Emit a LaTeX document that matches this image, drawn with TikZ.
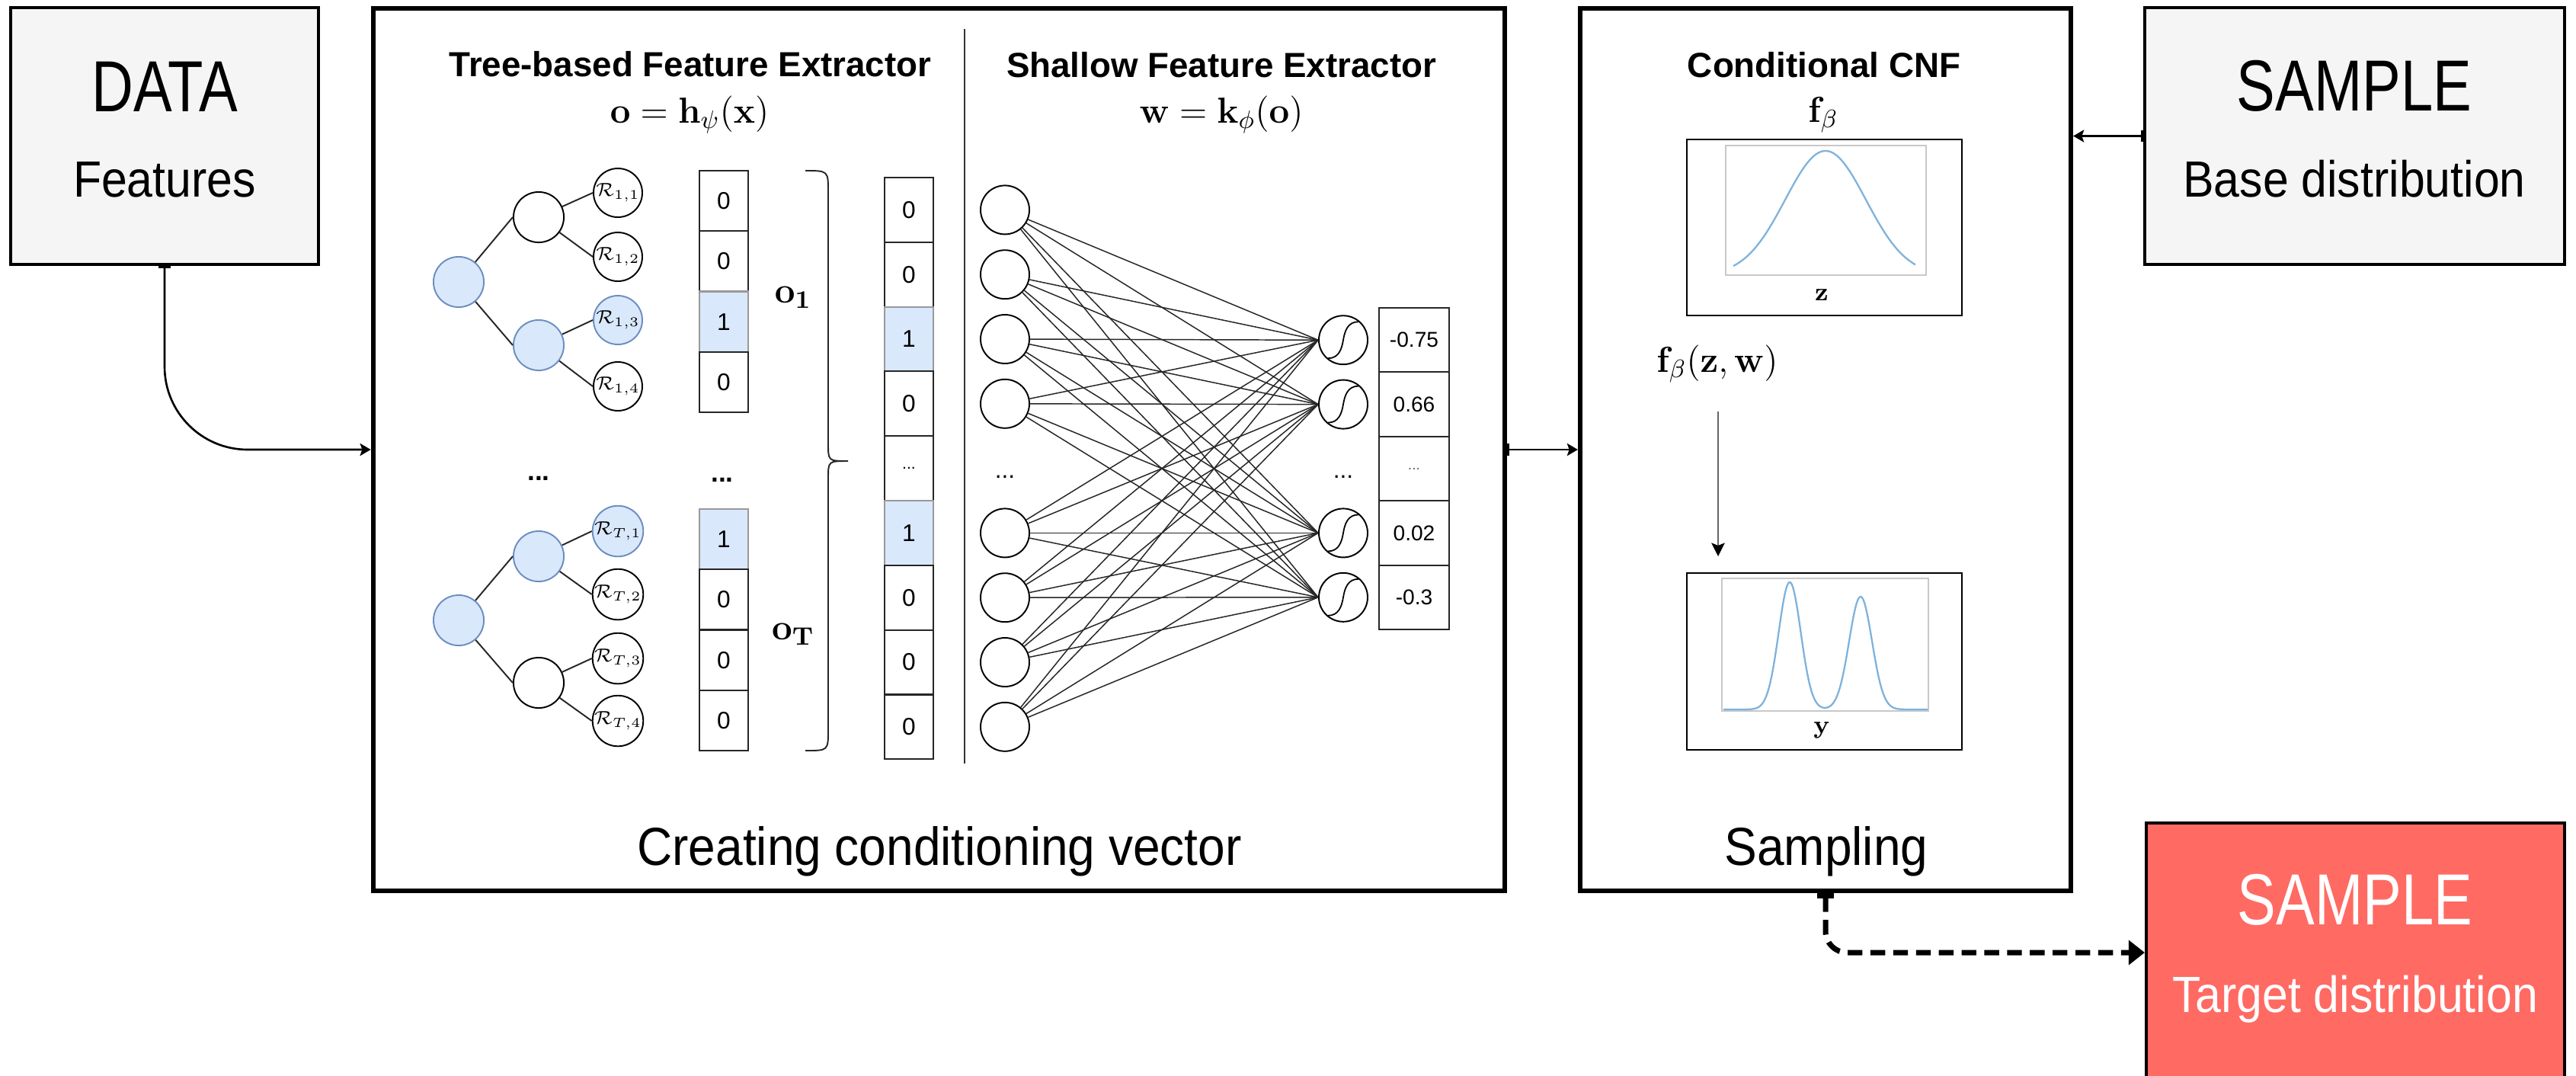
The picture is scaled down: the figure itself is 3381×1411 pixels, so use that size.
\RequirePackage{fix-cm}
\documentclass[tikz,border=0pt]{standalone}
\usepackage[no-math]{fontspec}
\setmainfont{Liberation Sans}
\newfontfamily\capfont{Liberation Sans}[FakeStretch=0.8]
\newfontfamily\subfont{Liberation Sans}[FakeStretch=0.91]
\usetikzlibrary{arrows.meta,calc}
\definecolor{boxgrey}{HTML}{F5F5F5}
\definecolor{bluefill}{HTML}{DAE8FC}
\definecolor{bluedraw}{HTML}{6C8EBF}
\definecolor{targetred}{HTML}{FF6A63}
\definecolor{curveblue}{HTML}{7FB2DB}
\definecolor{framegrey}{HTML}{C8C8C8}
\newcommand\vdts{...}
\begin{document}
\begin{tikzpicture}[x=0.01cm,y=-0.01cm,
  greybox/.style={draw, line width=1.1pt, fill=boxgrey, inner sep=0pt},
  panel/.style={draw, line width=1.7pt, inner sep=0pt},
  capt/.style={font=\capfont\fontsize{27}{30}\selectfont, inner sep=0pt},
  subt/.style={font=\subfont\fontsize{19}{22}\selectfont, inner sep=0pt},
  bott/.style={font=\subfont\fontsize{20}{24}\selectfont, inner sep=0pt},
  ttl/.style={font=\bfseries\fontsize{13}{15}\selectfont, inner sep=0pt},
  frm/.style={font=\fontsize{13.5}{15}\selectfont, inner sep=0pt},
  tn/.style={circle, draw, line width=0.55pt, minimum size=18.8pt, inner sep=0pt},
  tnb/.style={tn, fill=bluefill, draw=bluedraw},
  lf/.style={circle, draw, line width=0.55pt, minimum size=18.2pt, inner sep=0pt, font=\fontsize{7}{8}\selectfont},
  lfb/.style={lf, fill=bluefill, draw=bluedraw},
  vw/.style={draw=black!85, line width=0.6pt, minimum width=18.2pt, inner sep=0pt, font=\fontsize{9}{10}\selectfont},
  vb/.style={vw, fill=bluefill, draw=black!40},
  vd/.style={vw, font=\fontsize{6}{7}\selectfont},
  ow/.style={draw=black!85, line width=0.6pt, minimum width=26.2pt, minimum height=24pt, inner sep=0pt, font=\fontsize{8}{9}\selectfont},
  od/.style={ow, font=\fontsize{5.5}{6}\selectfont, text=black!60},
  nn/.style={circle, draw, line width=0.55pt, minimum size=18.2pt, inner sep=0pt},
  tedge/.style={line width=0.55pt, black!85},
  nnedge/.style={line width=0.42pt, black!85},
  dts/.style={font=\bfseries\fontsize{10}{12}\selectfont, inner sep=0pt},
  ndts/.style={font=\fontsize{9}{10}\selectfont, inner sep=0pt},
  plotbox/.style={draw, line width=0.6pt, minimum width=102.7pt, minimum height=65.7pt, inner sep=0pt},
  conn/.style={line width=0.75pt, {Bar[width=4.5pt]}-{Stealth[length=4pt,width=4.6pt,inset=0.8pt]}},
  dconn/.style={line width=2pt, dash pattern=on 5.5pt off 3pt, rounded corners=8pt, {Bar[width=6pt]}-{Triangle[length=6pt,width=9pt]}},
  garr/.style={line width=0.6pt, black!60, -{Stealth[length=5pt,width=5pt,inset=1pt,color=black]}}
]
\useasboundingbox (0,0) rectangle (3381,1411);

% ---------- outer boxes ----------
\node[greybox, minimum width=114.9pt, minimum height=95.9pt] (data) at (216,178.5) {};
\node[panel, minimum width=422.5pt, minimum height=329.3pt] (main) at (1232.5,590) {};
\node[panel, minimum width=183.2pt, minimum height=329.3pt] (cnf) at (2396,590) {};
\node[greybox, minimum width=156.8pt, minimum height=95.9pt] (base) at (3090.5,178.5) {};
\node[greybox, fill=targetred, minimum width=156.2pt, minimum height=96.7pt] (target) at (3091.5,1250) {};

\node[capt, anchor=base] (datat) at (216,146) {DATA};
\node[subt, anchor=base] (datas) at (216,258) {Features};
\node[capt, anchor=base] (baset) at (3090,145) {SAMPLE};
\node[subt, anchor=base] (bases) at (3090,258) {Base distribution};
\node[capt, anchor=base, text=white] (tgtt) at (3091,1213) {SAMPLE};
\node[subt, anchor=base, text=white] (tgts) at (3091,1328) {Target distribution};
\node[bott, anchor=base] (mainlbl) at (1233,1135) {Creating conditioning vector};
\node[bott, anchor=base] (cnflbl) at (2397,1135) {Sampling};

% ---------- connectors between boxes ----------
\draw[conn, rounded corners=31pt] (data.south) |- (main.west);
\draw[conn] (main.east) -- (cnf.west);
\draw[conn] (base.west) -- (cnf.east |- base.west);
\draw[dconn] (cnf.south) |- (target.west);

% ---------- titles ----------
\node[ttl, anchor=base] (t1) at (906,100) {Tree-based Feature Extractor};
\node[frm, anchor=base] (f1) at (905,161) {$\mathbf{o}=\mathbf{h}_{\psi}(\mathbf{x})$};
\node[ttl, anchor=base] (t2) at (1603,101) {Shallow Feature Extractor};
\node[frm, anchor=base] (f2) at (1603,161) {$\mathbf{w}=\mathbf{k}_{\phi}(\mathbf{o})$};
\draw[line width=0.5pt, black!80] (1266,38) -- (1266,1002);

% ---------- tree 1 ----------
\node[tnb] (r1) at (602,370) {};
\node[tn] (a1) at (707,285) {};
\node[tnb] (b1) at (707,453) {};
\node[lf] (l11) at (811,253) {$\mathcal{R}_{1,1}$};
\node[lf] (l12) at (811,337) {$\mathcal{R}_{1,2}$};
\node[lfb] (l13) at (811,420) {$\mathcal{R}_{1,3}$};
\node[lf] (l14) at (811,507) {$\mathcal{R}_{1,4}$};
\draw[tedge] (r1) -- (a1.west);
\draw[tedge] (r1) -- (b1.west);
\draw[tedge] (a1) -- (l11.west);
\draw[tedge] (a1) -- (l12.west);
\draw[tedge] (b1) -- (l13.west);
\draw[tedge] (b1) -- (l14.west);

% ---------- tree T ----------
\node[tnb] (rT) at (602,814) {};
\node[tnb] (aT) at (707,730) {};
\node[tn] (bT) at (707,896) {};
\node[lfb] (lT1) at (811,697) {$\mathcal{R}_{T,1}$};
\node[lf] (lT2) at (811,780) {$\mathcal{R}_{T,2}$};
\node[lf] (lT3) at (811,864) {$\mathcal{R}_{T,3}$};
\node[lf] (lT4) at (811,946) {$\mathcal{R}_{T,4}$};
\draw[tedge] (rT) -- (aT.west);
\draw[tedge] (rT) -- (bT.west);
\draw[tedge] (aT) -- (lT1.west);
\draw[tedge] (aT) -- (lT2.west);
\draw[tedge] (bT) -- (lT3.west);
\draw[tedge] (bT) -- (lT4.west);

\node[dts, anchor=base] (trdots) at (707,630) {...};
\node[dts, anchor=base] (vdots) at (948,632) {...};

% ---------- tree output vectors ----------
\foreach \v/\s [count=\i] in {0/vw,0/vw,1/vb,0/vw}
  \node[\s, minimum height=22.55pt] (va\i) at (950,{224+79.25*(\i-0.5)}) {\v};
\foreach \v/\s [count=\i] in {1/vb,0/vw,0/vw,0/vw}
  \node[\s, minimum height=22.55pt] (vt\i) at (950,{668+79.25*(\i-0.5)}) {\v};
\node[frm] (o1) at (1041,390) {$\mathbf{o}_{\mathbf{1}}$};
\node[frm] (oT) at (1041,832) {$\mathbf{o}_{\mathbf{T}}$};
\draw[line width=0.55pt, black!85] (1057,224) .. controls (1087,224) .. (1087,252) -- (1087,582) .. controls (1087,605) .. (1113,605) .. controls (1087,605) .. (1087,628) -- (1087,958) .. controls (1087,985) .. (1057,985);

% ---------- concatenated vector ----------
\foreach \v/\s [count=\i] in {0/vw,0/vw,1/vb,0/vw,\vdts/vd,1/vb,0/vw,0/vw,0/vw}
  \node[\s, minimum height=24.1pt] (vc\i) at (1193,{233+84.8*(\i-0.5)}) {\v};

% ---------- shallow network ----------
\foreach \y [count=\i] in {275.4,360.2,445,529.8,699.4,784.2,869,953.8}
  \node[nn] (in\i) at (1319,\y) {};
\foreach \y [count=\i] in {446.2,530.6,699.4,783.8}
  \node[nn] (out\i) at (1763,\y) {};
\foreach \i in {1,...,8}
  \foreach \j in {1,...,4}
    \draw[nnedge] (in\i) -- (out\j.west);
\foreach \i in {1,...,4}
  \draw[line width=0.5pt, shift={(out\i.center)}] (20,-24) .. controls (6,-24) and (2,-12) .. (0,0) .. controls (-2,12) and (-6,24) .. (-20,24);
\node[ndts, anchor=base] (indots) at (1319,627) {...};
\node[ndts, anchor=base] (outdots) at (1763,627) {...};

\foreach \v/\s [count=\i] in {-0.75/ow,0.66/ow,\vdts/od,0.02/ow,-0.3/ow}
  \node[\s] (w\i) at (1856,{404+84.4*(\i-0.5)}) {\v};

% ---------- conditional CNF ----------
\node[ttl, anchor=base] (t3) at (2394,101) {Conditional CNF};
\node[frm, anchor=base] (fb) at (2393,160) {$\mathbf{f}_{\beta}$};
\node[plotbox] (p1) at (2394.5,298.5) {};
\draw[framegrey, line width=0.6pt] (2265,191) rectangle (2528,361);
\draw[curveblue, line width=0.65pt] plot[domain=2275:2514, samples=90, smooth] (\x,{361-163*exp(-0.5*((\x-2396)/53)^2)});
\node[font=\fontsize{9.5}{10}\selectfont, inner sep=0pt, anchor=base] (zl) at (2391,394) {$\mathbf{z}$};

\node[frm, anchor=base] (fzw) at (2254,488) {$\mathbf{f}_{\beta}(\mathbf{z},\mathbf{w})$};
\coordinate (ga) at (2255,540);
\coordinate (gb) at (2255,730);
\draw[garr] (ga) -- (gb);

\node[plotbox, minimum height=66pt] (p2) at (2394.5,868) {};
\draw[framegrey, line width=0.6pt] (2260,759) rectangle (2531,933);
\draw[curveblue, line width=0.65pt] plot[domain=2262:2530, samples=200, smooth] (\x,{931-167*exp(max(-9,-0.5*((\x-2349)/14.5)^2))-148*exp(max(-9,-0.5*((\x-2442)/15)^2))});
\node[font=\fontsize{9.5}{10}\selectfont, inner sep=0pt, anchor=base] (yl) at (2391,962) {$\mathbf{y}$};
\end{tikzpicture}
\end{document}
